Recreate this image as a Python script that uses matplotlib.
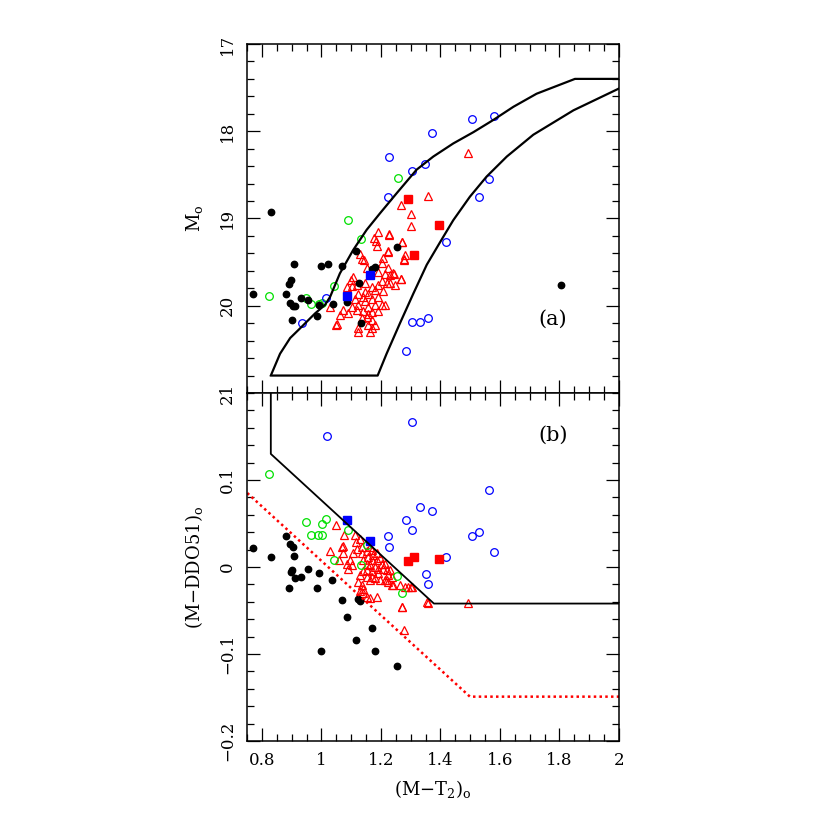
#! /usr/bin/env python3

import matplotlib
matplotlib.use('Agg')
import matplotlib.pyplot as plt
from matplotlib.ticker import MultipleLocator, FixedLocator

plt.rcParams['font.family'] = ['DejaVu Serif']
plt.rcParams['mathtext.fontset'] = 'dejavuserif'

# ---- panel (a): M vs (M-T2) ----
blk_a_x = [0.830, 0.771, 0.909, 0.897, 0.891, 0.880, 0.895, 0.903, 0.911, 0.930,
           0.956, 0.900, 0.986, 0.992, 1.000, 1.023, 1.038, 1.070, 1.085, 1.115,
           1.125, 1.132, 1.169, 1.180, 1.254, 1.804]
blk_a_y = [18.93, 19.86, 19.52, 19.70, 19.75, 19.87, 19.97, 20.00, 20.00, 19.91,
           19.93, 20.16, 20.12, 19.99, 19.55, 19.52, 19.98, 19.55, 19.96, 19.37,
           19.74, 20.20, 19.58, 19.56, 19.33, 19.76]

grn_a_x = [0.825, 1.088, 1.134, 1.256, 1.042, 0.947, 0.964, 0.992, 1.003]
grn_a_y = [19.89, 19.02, 19.24, 18.54, 19.77, 19.91, 19.98, 19.98, 19.97]

blu_a_x = [1.507, 1.580, 1.370, 1.227, 1.306, 1.349, 1.225, 1.564, 1.531, 1.420,
           1.015, 0.935, 1.303, 1.331, 1.358, 1.284]
blu_a_y = [17.86, 17.83, 18.02, 18.30, 18.46, 18.38, 18.75, 18.55, 18.75, 19.27,
           19.91, 20.20, 20.19, 20.19, 20.14, 20.52]

bsq_a_x = [1.087, 1.162]
bsq_a_y = [19.89, 19.65]

rsq_a_x = [1.290, 1.394, 1.311]
rsq_a_y = [18.78, 19.08, 19.42]

tri_a_x = [1.191, 1.177, 1.183, 1.227, 1.272, 1.188, 1.225, 1.281, 1.279, 1.208,
           1.144, 1.130, 1.135, 1.205, 1.152, 1.223, 1.191, 1.242, 1.230, 1.214,
           1.107, 1.099, 1.267, 1.202, 1.219, 1.230, 1.191, 1.085, 1.102, 1.118,
           1.146, 1.169, 1.146, 1.180, 1.208, 1.124, 1.141, 1.158, 1.247, 1.113,
           1.169, 1.191, 1.146, 1.124, 1.180, 1.158, 1.202, 1.102, 1.074, 1.090,
           1.118, 1.141, 1.169, 1.191, 1.152, 1.135, 1.169, 1.124, 1.158, 1.180,
           1.163, 1.124, 1.169, 1.051, 1.029, 1.062, 1.158, 1.214,
           1.494, 1.357, 1.266, 1.300, 1.300, 1.228, 1.271, 1.223, 1.279, 1.266,
           1.245, 1.049]
tri_a_y = [19.16, 19.22, 19.26, 19.18, 19.27, 19.31, 19.37, 19.42, 19.46, 19.45,
           19.47, 19.41, 19.46, 19.51, 19.57, 19.57, 19.61, 19.63, 19.65, 19.64,
           19.67, 19.71, 19.69, 19.72, 19.74, 19.74, 19.76, 19.78, 19.77, 19.76,
           19.74, 19.79, 19.84, 19.82, 19.83, 19.86, 19.90, 19.87, 19.76, 19.92,
           19.92, 19.90, 19.95, 19.99, 19.99, 20.01, 19.99, 20.01, 20.05, 20.08,
           20.05, 20.06, 20.07, 20.06, 20.13, 20.14, 20.16, 20.26, 20.22, 20.22,
           20.30, 20.30, 20.26, 20.21, 20.01, 20.11, 20.09, 19.99,
           18.25, 18.74, 18.84, 18.95, 19.09, 19.19, 19.27, 19.38, 19.47, 19.69,
           19.64, 20.22]

# boundary curves of panel (a)
upper_x = [0.830, 0.861, 0.895, 0.934, 0.978, 1.012, 1.029, 1.062, 1.107, 1.152,
           1.197, 1.253, 1.320, 1.376, 1.443, 1.511, 1.578, 1.645, 1.723, 1.852, 2.0]
upper_y = [20.80, 20.55, 20.37, 20.24, 20.09, 19.99, 19.90, 19.63, 19.36, 19.13,
           18.94, 18.71, 18.44, 18.29, 18.14, 18.01, 17.87, 17.72, 17.57, 17.40, 17.40]
lower_x = [0.837, 1.189, 1.219, 1.264, 1.309, 1.354, 1.399, 1.443, 1.499, 1.555,
           1.623, 1.712, 1.847, 2.0]
lower_y = [20.80, 20.80, 20.55, 20.20, 19.86, 19.53, 19.27, 19.02, 18.75, 18.52,
           18.29, 18.04, 17.76, 17.51]

# ---- panel (b): (M-DDO51) vs (M-T2) ----
blk_b_x = [0.771, 0.830, 0.880, 0.895, 0.903, 0.909, 0.900, 0.898, 0.911, 0.930,
           0.891, 0.956, 0.992, 0.986, 1.037, 1.068, 1.124, 1.130, 1.085, 1.170,
           1.115, 1.000, 1.180, 1.255]
blk_b_y = [0.022, 0.012, 0.036, 0.026, 0.023, 0.013, -0.003, -0.006, -0.013, -0.012,
           -0.024, -0.002, -0.007, -0.024, -0.015, -0.038, -0.037, -0.039, -0.058, -0.070,
           -0.084, -0.096, -0.097, -0.114]

grn_b_x = [0.825, 0.947, 1.014, 1.003, 0.964, 0.990, 1.003, 1.088, 1.152, 1.042,
           1.134, 1.255, 1.270]
grn_b_y = [0.107, 0.052, 0.055, 0.049, 0.037, 0.037, 0.037, 0.042, 0.025, 0.008,
           0.002, -0.010, -0.030]

blu_b_x = [1.303, 1.019, 1.564, 1.331, 1.370, 1.284, 1.306, 1.225, 1.227, 1.507,
           1.531, 1.580, 1.420, 1.350, 1.358]
blu_b_y = [0.167, 0.151, 0.089, 0.069, 0.064, 0.054, 0.042, 0.036, 0.023, 0.036,
           0.040, 0.017, 0.011, -0.008, -0.019]

bsq_b_x = [1.087, 1.162]
bsq_b_y = [0.054, 0.030]

rsq_b_x = [1.290, 1.311, 1.395]
rsq_b_y = [0.007, 0.011, 0.009]

tri_b_x = [1.049, 1.029, 1.071, 1.074, 1.060, 1.085, 1.091, 1.102, 1.096, 1.116,
           1.113, 1.130, 1.119, 1.135, 1.107, 1.135, 1.152, 1.169, 1.163, 1.158,
           1.175, 1.186, 1.169, 1.186, 1.197, 1.203, 1.214, 1.152, 1.141, 1.163,
           1.180, 1.191, 1.208, 1.219, 1.231, 1.152, 1.141, 1.169, 1.191, 1.169,
           1.152, 1.225, 1.236, 1.214, 1.225, 1.197, 1.130, 1.124, 1.135, 1.141,
           1.130, 1.139, 1.163, 1.180, 1.236, 1.264, 1.281, 1.292, 1.303, 1.152,
           1.163, 1.186, 1.270, 1.354, 1.494, 1.357, 1.272, 1.278, 1.300, 1.239,
           1.219, 1.076, 1.069]
tri_b_y = [0.048, 0.018, 0.024, 0.016, 0.008, 0.004, -0.002, 0.002, 0.008, 0.029,
           0.037, 0.032, 0.021, 0.023, 0.016, 0.016, 0.018, 0.020, 0.023, 0.012,
           0.014, 0.016, 0.008, 0.008, 0.010, 0.004, 0.004, 0.004, 0.008, 0.002,
           0.000, -0.002, -0.002, -0.004, -0.004, -0.004, -0.005, -0.005, -0.007, -0.011,
           -0.011, -0.009, -0.011, -0.015, -0.017, -0.015, -0.009, -0.017, -0.021, -0.025,
           -0.027, -0.030, -0.015, -0.013, -0.021, -0.021, -0.023, -0.023, -0.023, -0.034,
           -0.036, -0.035, -0.046, -0.040, -0.041, -0.041, -0.046, -0.072, -0.023, -0.021,
           -0.015, 0.037, 0.023]

cut_x = [0.830, 0.830, 1.378, 2.0]
cut_y = [0.2, 0.130, -0.042, -0.042]
dot_x = [0.751, 1.499, 2.0]
dot_y = [0.085, -0.149, -0.149]

xticks = [0.8, 1.0, 1.2, 1.4, 1.6, 1.8, 2.0]
xticklabels = ['0.8', '1', '1.2', '1.4', '1.6', '1.8', '2']
yticks_a = [17, 18, 19, 20, 21]
yticks_b = [-0.2, -0.1, 0.0, 0.1]
yticklabels_b = ['\u22120.2', '\u22120.1', '0', '0.1']

fig = plt.figure(figsize=(8.3, 8.3), dpi=100)
ax1 = fig.add_axes([0.2976, 0.5265, 0.4482, 0.4205])
ax2 = fig.add_axes([0.2976, 0.1072, 0.4482, 0.4193])

ms = 5.5
for ax, d in ((ax1, 'a'), (ax2, 'b')):
    g = globals()
    ax.plot(g['tri_%s_x' % d], g['tri_%s_y' % d], '^', ms=ms, mfc='none', mec='red', mew=0.9, ls='none')
    ax.plot(g['grn_%s_x' % d], g['grn_%s_y' % d], 'o', ms=ms, mfc='none', mec='#00e000', mew=0.9, ls='none')
    ax.plot(g['blu_%s_x' % d], g['blu_%s_y' % d], 'o', ms=ms, mfc='none', mec='blue', mew=0.9, ls='none')
    ax.plot(g['blk_%s_x' % d], g['blk_%s_y' % d], 'o', ms=4.6, color='black', ls='none')
    ax.plot(g['bsq_%s_x' % d], g['bsq_%s_y' % d], 's', ms=5.5, color='blue', ls='none')
    ax.plot(g['rsq_%s_x' % d], g['rsq_%s_y' % d], 's', ms=5.5, color='red', ls='none')

ax1.plot(upper_x, upper_y, color='black', lw=1.6)
ax1.plot(lower_x, lower_y, color='black', lw=1.6)
ax2.plot(cut_x, cut_y, color='black', lw=1.3)
ax2.plot(dot_x, dot_y, color='red', lw=1.8, ls=(0, (1, 1.3)))

ax1.set_xlim(0.75, 2.0)
ax1.set_ylim(21, 17)
ax2.set_xlim(0.75, 2.0)
ax2.set_ylim(-0.2, 0.2)

for ax in (ax1, ax2):
    ax.xaxis.set_major_locator(FixedLocator(xticks))
    ax.xaxis.set_minor_locator(MultipleLocator(0.05))
    ax.tick_params(which='both', direction='in', top=True, right=True, width=0.9)
    ax.tick_params(which='major', length=9.5, pad=8, labelsize=12)
    ax.tick_params(which='minor', length=4.7)
    for s in ax.spines.values():
        s.set_linewidth(1.1)

ax1.set_xticklabels([])
ax2.set_xticklabels(xticklabels)

ax1.yaxis.set_major_locator(FixedLocator(yticks_a))
ax1.yaxis.set_minor_locator(MultipleLocator(0.2))
ax1.set_yticklabels([str(v) for v in yticks_a], rotation=90, va='center')

ax2.yaxis.set_major_locator(FixedLocator(yticks_b))
ax2.yaxis.set_minor_locator(MultipleLocator(0.02))
ax2.set_yticklabels(yticklabels_b, rotation=90, va='center')

ax1.set_ylabel(r'M$_{\rm o}$', fontsize=13)
ax2.set_ylabel(r'(M$-$DDO51)$_{\rm o}$', fontsize=13)
ax2.set_xlabel(r'(M$-$T$_2$)$_{\rm o}$', fontsize=13)
ax1.yaxis.set_label_coords(-0.113, 0.5)
ax2.yaxis.set_label_coords(-0.113, 0.5)
ax2.xaxis.set_label_coords(0.5, -0.105)

ax1.text(1.778, 20.16, '(a)', fontsize=15, ha='center', va='center')
ax2.text(1.778, 0.151, '(b)', fontsize=15, ha='center', va='center')

plt.savefig('out.png', dpi=100)
